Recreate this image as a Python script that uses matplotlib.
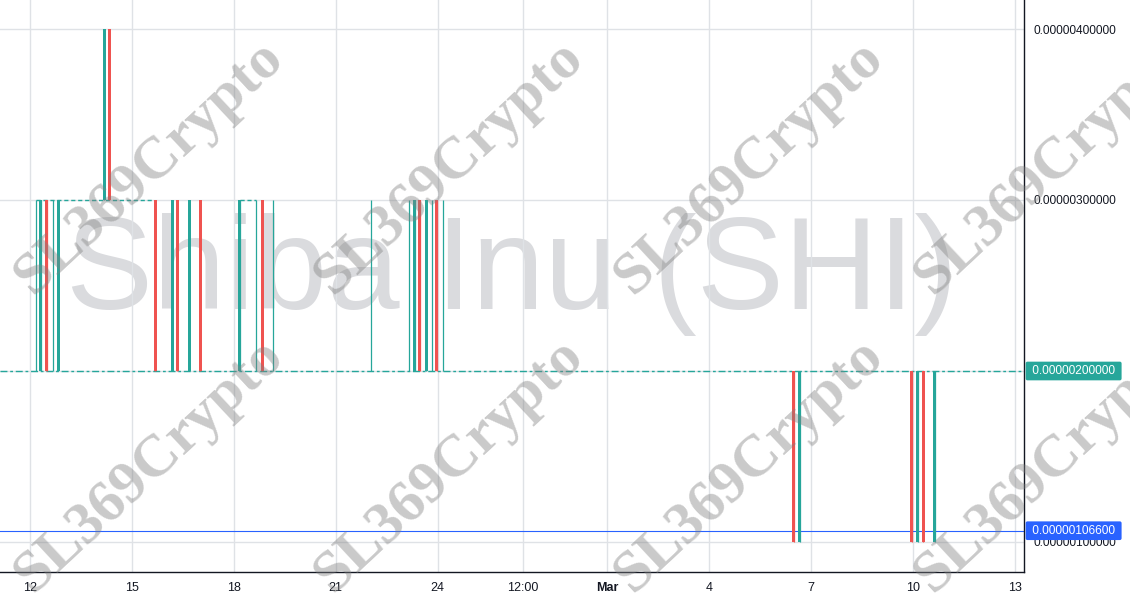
import matplotlib
matplotlib.use('Agg')
import matplotlib.pyplot as plt
import matplotlib.transforms as mtransforms
from matplotlib.ticker import FixedLocator, FuncFormatter

# time axis is bar-index like (days since Feb 12, gaps removed)
t = [0.18, 0.32, 0.50, 0.68, 0.83, 2.18, 2.34, 3.69, 4.19, 4.33, 4.69, 5.01,
     6.17, 6.65, 6.83, 7.16, 10.03, 11.16, 11.33, 11.48, 11.66, 11.83, 11.98, 12.16,
     22.48, 22.66, 25.95, 26.13, 26.30, 26.63]
# prices in units of 1e-6
opens = [3, 2, 3, 3, 2, 3, 4, 3, 2, 3, 2, 3,
         2, 3, 3, 3, 3, 3, 2, 3, 2, 3, 3, 3,
         2, 1, 2, 1, 2, 1]
closes = [3, 3, 2, 3, 3, 4, 3, 2, 3, 2, 3, 2,
          3, 3, 2, 3, 3, 3, 3, 2, 3, 3, 2, 3,
          1, 2, 1, 2, 1, 2]
highs = [3, 3, 3, 3, 3, 4, 4, 3, 3, 3, 3, 3,
         3, 3, 3, 3, 3, 3, 3, 3, 3, 3, 3, 3,
         2, 2, 2, 2, 2, 2]
lows = [2, 2, 2, 2, 2, 3, 3, 2, 2, 2, 2, 2,
        2, 2, 2, 2, 2, 2, 2, 2, 2, 2, 2, 2,
        1, 1, 1, 1, 1, 1]

# dashed marker segments at the 3e-6 level
dash_segments = [(0.18, 3.66, 3), (6.17, 6.65, 3)]

last_price = 2.0
mark_price = 1.066

price_ticks = [1, 2, 3, 4]
time_ticks = [0, 3, 6, 9, 12, 14.5, 17, 20, 23, 26, 29]
time_labels = ['12', '15', '18', '21', '24', '12:00', 'Mar', '4', '7', '10', '13']

UP = '#26a69a'
DOWN = '#ef5350'
BLUE = '#2962ff'
DARK = '#131722'
GRID = '#dfe2e6'
SCALE = 1e-6

plt.rcParams['font.family'] = ['Liberation Sans', 'DejaVu Sans']

fig = plt.figure(figsize=(11.3, 6), dpi=100)
ax = fig.add_axes([0, 28 / 600, 1024 / 1130, 572 / 600])

px_per_day = 33.97
ax.set_xlim(-30 / px_per_day, (1024 - 30) / px_per_day)
y_top = 4 + 29 / 171
y_bot = 4 - 543 / 171
ax.set_ylim(y_bot * SCALE, y_top * SCALE)

# background title watermark
ax.text(0.5, 0.52, 'Shiba Inu (SHI)', transform=ax.transAxes, ha='center', va='center',
        fontsize=94, color='#dadbde', family=['Liberation Sans'], zorder=0)

# candles
body_w = 3 / px_per_day
for ti, o, h, l, c in zip(t, opens, highs, lows, closes):
    col = UP if c >= o else DOWN
    ax.vlines(ti, l * SCALE, h * SCALE, color=col, lw=0.9, zorder=3)
    if o != c:
        ax.bar(ti, abs(c - o) * SCALE, bottom=min(o, c) * SCALE, width=body_w,
               color=col, linewidth=0, zorder=3)

for x0, x1, p in dash_segments:
    ax.hlines(p * SCALE, x0, x1, color=UP, lw=1, linestyles=(0, (3, 2)), zorder=2)

ax.axhline(last_price * SCALE, color=UP, lw=1, ls=(0, (5, 2, 2, 2)), zorder=2)
ax.axhline(mark_price * SCALE, color=BLUE, lw=0.8, zorder=2)

# axes styling
ax.yaxis.tick_right()
ax.yaxis.set_major_locator(FixedLocator([p * SCALE for p in price_ticks]))
ax.yaxis.set_major_formatter(FuncFormatter(lambda v, pos: '{:.11f}'.format(v)))
ax.xaxis.set_major_locator(FixedLocator(time_ticks))
ax.set_xticklabels(time_labels)
ax.tick_params(axis='y', length=0, pad=7, labelsize=8.6, labelcolor=DARK)
ax.tick_params(axis='x', length=0, pad=7, labelsize=9, labelcolor=DARK)
for lab in ax.get_xticklabels():
    if lab.get_text() == 'Mar':
        lab.set_fontweight('bold')
ax.grid(True, color=GRID, lw=1, zorder=0)
ax.set_axisbelow(True)
for s in ['left', 'top']:
    ax.spines[s].set_visible(False)
for s in ['right', 'bottom']:
    ax.spines[s].set_color(DARK)
    ax.spines[s].set_linewidth(1)

# price labels on the scale
trans = mtransforms.blended_transform_factory(ax.transAxes, ax.transData)
for p, col in [(last_price, UP), (mark_price, BLUE)]:
    ax.text(1.0 + 5 / 1024, p * SCALE, ' {:.11f} '.format(p * SCALE), transform=trans,
            ha='left', va='center', fontsize=8.6, color='white', clip_on=False, zorder=10,
            bbox=dict(boxstyle='round,pad=0.28,rounding_size=0.15', fc=col, ec='none'))

# diagonal watermarks
for cy in [168, 466]:
    for cx in [150, 450, 750, 1050]:
        fig.text(cx / 1130, 1 - cy / 600, 'SL369Crypto', rotation=43, rotation_mode='anchor',
                 ha='center', va='center', fontsize=43, fontweight='bold',
                 family=['Liberation Serif'], color='#808080', alpha=0.42, zorder=20)

fig.savefig('out.png', dpi=100)
